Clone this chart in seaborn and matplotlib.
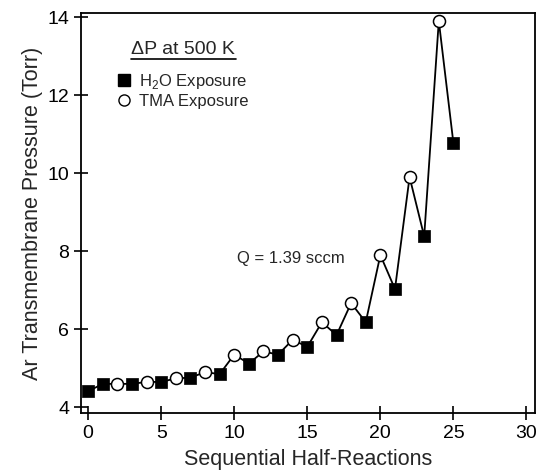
import matplotlib
matplotlib.use("Agg")
import matplotlib.pyplot as plt
import seaborn as sns
import pandas as pd
from matplotlib.lines import Line2D

# Data
half_reaction = list(range(0, 26))
pressure = [4.41, 4.60, 4.60, 4.60, 4.65, 4.65, 4.74, 4.76, 4.90, 4.85,
            5.35, 5.12, 5.43, 5.35, 5.73, 5.55, 6.18, 5.85, 6.67, 6.18,
            7.90, 7.03, 9.90, 8.38, 13.90, 10.77]
exposure = ["H2O" if i % 2 == 1 or i == 0 else "TMA" for i in half_reaction]

x_ticks = [0, 5, 10, 15, 20, 25, 30]
y_ticks = [4, 6, 8, 10, 12, 14]

df = pd.DataFrame({"x": half_reaction, "y": pressure, "exposure": exposure})

sns.set_style("ticks")
plt.rcParams["font.family"] = ["Liberation Sans", "DejaVu Sans"]
plt.rcParams["mathtext.fontset"] = "custom"
plt.rcParams["mathtext.rm"] = "Liberation Sans"

fig = plt.figure(figsize=(5.39, 4.70), dpi=100)
ax = fig.add_axes([0.150, 0.121, 0.843, 0.851])

sns.lineplot(data=df, x="x", y="y", color="black", linewidth=1.3, ax=ax,
             sort=True, zorder=2)
h2o = df[df.exposure == "H2O"]
tma = df[df.exposure == "TMA"]
sns.scatterplot(data=h2o, x="x", y="y", marker="s", s=75, color="black",
                edgecolor="black", linewidth=0.5, ax=ax, zorder=3)
sns.scatterplot(data=tma, x="x", y="y", marker="o", s=75, facecolor="white",
                edgecolor="black", linewidth=1.1, ax=ax, zorder=3)

ax.set_xlim(-0.5, 30.6)
ax.set_ylim(3.85, 14.1)
ax.set_xticks(x_ticks)
ax.set_yticks(y_ticks)
ax.tick_params(direction="inout", length=10, width=1.2, labelsize=14,
               colors="black")
for sp in ax.spines.values():
    sp.set_linewidth(1.3)
    sp.set_color("black")

ax.set_xlabel("Sequential Half-Reactions", fontsize=15.5, labelpad=5)
ax.set_ylabel("Ar Transmembrane Pressure (Torr)", fontsize=15.5, labelpad=3)

# Legend (manual, with underlined title)
fig.text(183 / 539, 1 - 50 / 470, "\u0394P at 500 K", fontsize=14,
         ha="center", va="center")
fig.add_artist(Line2D([131 / 539, 236 / 539], [1 - 59 / 470, 1 - 59 / 470],
                      color="black", linewidth=1.2))
leg_handles = [
    Line2D([], [], marker="s", linestyle="none", markersize=8,
           markerfacecolor="black", markeredgecolor="black"),
    Line2D([], [], marker="o", linestyle="none", markersize=8,
           markerfacecolor="white", markeredgecolor="black"),
]
ax.legend(leg_handles, ["H$_2$O Exposure", "TMA Exposure"],
          loc="upper left", bbox_to_anchor=(109 / 539, 1 - 64 / 470),
          bbox_transform=fig.transFigure, frameon=False, fontsize=12,
          handlelength=0.8, handletextpad=0.5, labelspacing=0.15,
          borderpad=0)

ax.text(10.2, 7.82, "Q = 1.39 sccm", fontsize=12, ha="left", va="center")

fig.savefig("out.png", dpi=100)
